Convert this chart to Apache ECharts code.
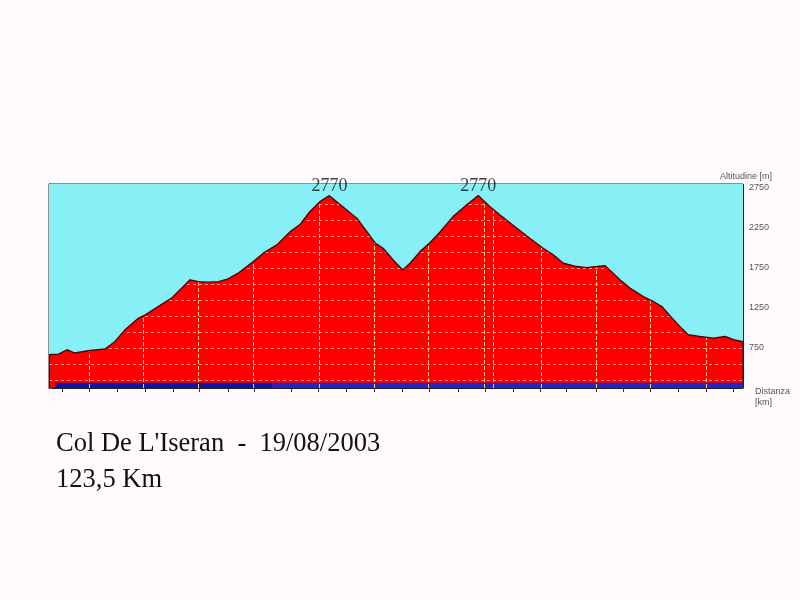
<!DOCTYPE html>
<html>
<head>
<meta charset="utf-8">
<script src="https://cdn.jsdelivr.net/npm/echarts@6/dist/echarts.min.js"></script>
<style>
html,body{margin:0;padding:0;background:#fefafd;}
#c{width:800px;height:600px;}
</style>
</head>
<body>
<div id="c"></div>
<script>
// Distance along route (km) and altitude (m), read from the profile
const distKm = [0, 1.7, 3.2, 4.6, 7.0, 10.0, 11.8, 13.6, 16.0, 17.2, 19.5, 21.9, 23.7, 25.2, 26.7, 28.5, 30.3, 32.0, 33.8, 35.0, 36.5, 38.3, 40.7, 43.1, 44.9, 46.6, 48.4, 50.1, 51.4, 53.2, 55.0, 56.8, 58.3, 59.7, 61.5, 63.2, 64.5, 66.3, 68.1, 69.9, 72.2, 74.6, 76.7, 78.8, 80.6, 83.6, 85.9, 88.3, 90.1, 91.9, 94.3, 96.1, 97.9, 99.3, 100.8, 102.0, 103.8, 106.2, 108.0, 109.5, 111.3, 112.7, 114.2, 116.3, 118.7, 120.8, 122.3, 124.0];
const altitude = [666, 674, 728, 687, 716, 737, 832, 978, 1124, 1165, 1268, 1373, 1498, 1602, 1580, 1573, 1580, 1614, 1685, 1748, 1830, 1935, 2038, 2204, 2297, 2454, 2579, 2654, 2579, 2475, 2372, 2204, 2060, 1997, 1851, 1726, 1810, 1955, 2070, 2204, 2392, 2538, 2656, 2516, 2413, 2247, 2122, 1997, 1914, 1810, 1768, 1755, 1768, 1780, 1685, 1602, 1498, 1393, 1331, 1268, 1124, 1019, 915, 894, 874, 894, 853, 828];

// Peak annotations
const peakIdx = [27, 42];
const peakText = ['2770', '2770'];

// Axis ticks / labels / grid
const xMin = 0, xMax = 124, yMin = 250, yMax = 2800;
const xTickKm = [2.3, 7.2, 12.2, 17.2, 22.2, 26.8, 32.0, 36.6, 43.2, 48.1, 53.1, 58.1, 63.1, 67.9, 73.1, 77.9, 82.9, 87.7, 92.5, 97.7, 102.6, 107.4, 112.4, 117.4, 122.2];
const xGridKm = [7.2, 16.8, 26.6, 36.5, 48.2, 58.1, 67.7, 77.7, 79.3, 87.9, 97.7, 107.4, 117.4];
const yLabels = [750, 1250, 1750, 2250, 2750];
const yGrid = [350, 550, 750, 950, 1150, 1350, 1550, 1750, 1950, 2150, 2350, 2550, 2750];

// Route segments bar along the bottom (km from, km to)
const segments = [[1.1, 39.9], [39.9, 124.0]];
const segColors = ['#1212a6', '#2424c8'];

const titleLine1 = "Col De L'Iseran  -  19/08/2003";
const titleLine2 = '123,5 Km';

const profile = distKm.map((d, i) => [d, altitude[i]]);

const chart = echarts.init(document.getElementById('c'));
chart.setOption({
  backgroundColor: '#fefafd',
  animation: false,
  grid: {
    left: 49, right: 57, top: 184, bottom: 212,
    show: true, backgroundColor: '#fe0000',
    borderColor: '#222', borderWidth: 1
  },
  xAxis: {
    type: 'value', min: xMin, max: xMax,
    axisLine: {show: true, onZero: false, lineStyle: {color: '#222', width: 1}},
    axisTick: {show: true, customValues: xTickKm, length: 4, lineStyle: {color: '#333'}},
    axisLabel: {show: false},
    splitLine: {show: false}
  },
  yAxis: {
    type: 'value', position: 'right', min: yMin, max: yMax, interval: 250,
    axisLine: {show: true, lineStyle: {color: '#222', width: 1}},
    axisTick: {show: true, length: 3, lineStyle: {color: '#555'}},
    axisLabel: {
      show: true, margin: 6, color: '#555', fontSize: 9, fontFamily: 'Liberation Sans',
      formatter: v => yLabels.indexOf(v) >= 0 ? String(v) : ''
    },
    splitLine: {show: false}
  },
  series: [
    {
      // base: grid lines over the red ground
      type: 'line', data: profile, symbol: 'none', z: 2, silent: true,
      lineStyle: {opacity: 0},
      markLine: {
        silent: true, symbol: ['none', 'none'], label: {show: false},
        animation: false,
        data: yGrid.map(v => ({yAxis: v, lineStyle: {color: '#ffa080', width: 1, type: [3, 3]}}))
          .concat(xGridKm.map(v => ({xAxis: v, lineStyle: {color: '#ffd27a', width: 1, type: [4, 2]}})))
      }
    },
    {
      // sky above the profile
      type: 'line', data: profile, symbol: 'none', z: 5, silent: true,
      lineStyle: {color: '#4a0808', width: 1.4},
      areaStyle: {origin: 'end', color: '#86f0f6', opacity: 1},
      markArea: {
        silent: true,
        data: segments.map((s, i) => [
          {xAxis: s[0], yAxis: yMin, itemStyle: {color: segColors[i], opacity: 1}},
          {xAxis: s[1], yAxis: 315}
        ])
      }
    },
    {
      type: 'scatter', z: 6, silent: true, symbolSize: 0,
      data: peakIdx.map(i => [distKm[i], altitude[i]]),
      label: {
        show: true, position: 'top', distance: 0,
        fontFamily: 'Liberation Serif', fontSize: 18, color: '#111',
        formatter: p => peakText[p.dataIndex]
      },
      markLine: {
        silent: true, symbol: ['none', 'none'], label: {show: false}, animation: false,
        lineStyle: {color: '#222', width: 1, type: 'solid'},
        data: [{yAxis: yMax}, {xAxis: xMin}, {xAxis: xMax}]
      }
    }
  ],
  graphic: [
    {type: 'text', left: 720, top: 172, style: {text: 'Altitudine [m]', fill: '#555', font: '9px "Liberation Sans"'}},
    {type: 'text', left: 755, top: 386, style: {text: 'Distanza\n[km]', fill: '#555', font: '9px "Liberation Sans"', lineHeight: 11}},
    {type: 'text', left: 56, top: 431, style: {text: titleLine1, fill: '#111', font: '26.5px "Liberation Serif"'}},
    {type: 'text', left: 56, top: 467, style: {text: titleLine2, fill: '#111', font: '26.5px "Liberation Serif"'}}
  ]
});
</script>
</body>
</html>
